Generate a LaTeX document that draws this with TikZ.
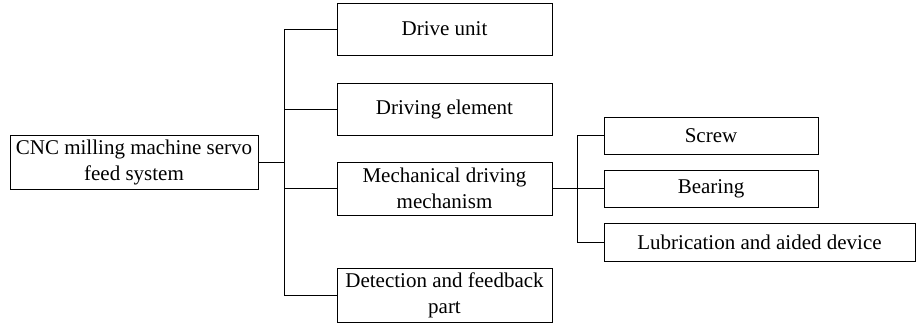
\documentclass[tikz,border=0pt]{standalone}
\usepackage{fontspec}
\setmainfont{Liberation Serif}
\begin{document}
\begin{tikzpicture}[x=1pt,y=-1pt,
  box/.style={draw,line width=0.9pt,inner sep=0pt,align=center,font=\fontsize{21}{26}\selectfont},
  conn/.style={line width=0.9pt}]
\useasboundingbox (0,0) rectangle (916,326);
\node[box,minimum width=248,minimum height=54] (root) at (134,162) {CNC milling machine servo\\feed system};
\node[box,minimum width=215,minimum height=52] (du) at (444.5,29) {Drive unit};
\node[box,minimum width=215,minimum height=52] (de) at (444.5,109) {Driving element};
\node[box,minimum width=215,minimum height=53] (mdm) at (444.5,188.5) {Mechanical driving\\mechanism};
\node[box,minimum width=215,minimum height=54] (det) at (444.5,295) {Detection and feedback\\part};
\node[box,minimum width=214,minimum height=37] (screw) at (711,135.5) {Screw};
\node[box,minimum width=214,minimum height=37] (bear) at (711,188.5) {Bearing};
\node[box,minimum width=311,minimum height=38] (lub) at (759.5,242) {Lubrication and aided device};
\coordinate (j1) at (284.5,162);
\coordinate (j2) at (577.7,188.5);
\draw[conn] (root.east) -- (j1);
\draw[conn] (du.west) -| (j1) |- (det.west);
\draw[conn] (de.west) -- (de.west -| j1);
\draw[conn] (mdm.west) -- (mdm.west -| j1);
\draw[conn] (mdm.east) -- (bear.west);
\draw[conn] (screw.west) -| (j2) |- (lub.west);
\end{tikzpicture}
\end{document}
